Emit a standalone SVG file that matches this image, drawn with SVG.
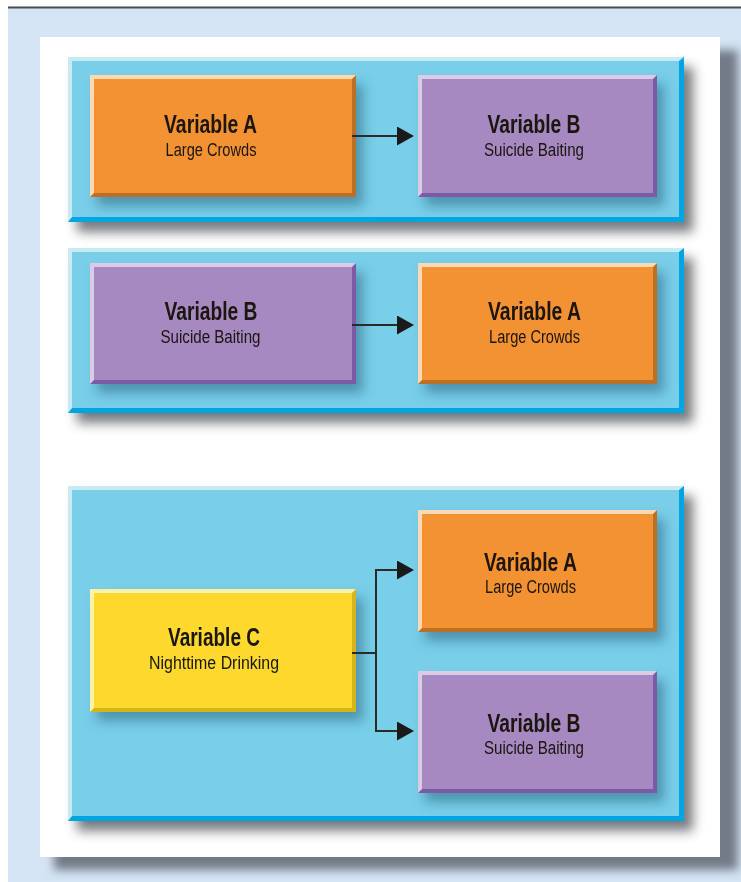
<svg xmlns="http://www.w3.org/2000/svg" width="741" height="882" viewBox="0 0 741 882">
<defs>
<filter id="cardShadow" x="-10%" y="-10%" width="120%" height="120%"><feGaussianBlur stdDeviation="5"/></filter>
<filter id="panelShadow" x="-10%" y="-20%" width="120%" height="150%"><feGaussianBlur stdDeviation="6"/></filter>
<filter id="boxShadow" x="-20%" y="-30%" width="140%" height="160%"><feDropShadow dx="7" dy="9" stdDeviation="6" flood-color="#1d5a76" flood-opacity="0.5"/></filter>
<marker id="arrow" viewBox="0 0 17 19" refX="0" refY="9.5" markerWidth="17" markerHeight="19" markerUnits="userSpaceOnUse" orient="auto"><path d="M0,0 L17,9.5 L0,19 Z" fill="#1a1a1a"/></marker>
</defs>
<style>
.title{font-family:"Liberation Sans",Arial,sans-serif;font-weight:bold;font-size:25px;fill:#1a1410;text-anchor:middle}
.sub{font-family:"Liberation Sans",Arial,sans-serif;font-size:18px;fill:#1a1410;text-anchor:middle}
.plight{fill:#c8eaf3}.pdark{fill:#00a6e1}.pmain{fill:#79cee8}
.olight{fill:#fcd9b4}.odark{fill:#bb6f28}.omain{fill:#f39232}
.ulight{fill:#dccbe6}.udark{fill:#7c5aa6}.umain{fill:#a589c0}
.ylight{fill:#fdf1a6}.ydark{fill:#d6b41e}.ymain{fill:#fdd92f}
.shadow{fill:#4a4f55;opacity:0.75}
.conn{fill:none;stroke:#2a2a2a;stroke-width:2}
</style>
<rect x="0" y="0" width="741" height="882" fill="#ffffff"/>
<rect x="8" y="8" width="733" height="874" fill="#d4e4f4"/>
<line x1="8" y1="7.5" x2="741" y2="7.5" stroke="#4a4a4a" stroke-width="1.8"/>
<rect x="54" y="50" width="684" height="820" fill="#737c86" filter="url(#cardShadow)"/>
<rect x="40" y="37" width="680" height="820" fill="#ffffff"/>

<g id="panel1">
<rect x="77" y="67" width="616" height="165" class="shadow" filter="url(#panelShadow)"/>
<rect x="68" y="57" width="616" height="165" class="plight"/>
<polygon points="684,57 684,222 68,222 72,217 679,217 679,61" class="pdark"/>
<rect x="72" y="61" width="607" height="156" class="pmain"/>
</g>
<g id="panel2">
<rect x="77" y="258" width="616" height="165" class="shadow" filter="url(#panelShadow)"/>
<rect x="68" y="248" width="616" height="165" class="plight"/>
<polygon points="684,248 684,413 68,413 72,408 679,408 679,252" class="pdark"/>
<rect x="72" y="252" width="607" height="156" class="pmain"/>
</g>
<g id="panel3">
<rect x="77" y="496" width="616" height="335" class="shadow" filter="url(#panelShadow)"/>
<rect x="68" y="486" width="616" height="335" class="plight"/>
<polygon points="684,486 684,821 68,821 72,816 679,816 679,490" class="pdark"/>
<rect x="72" y="490" width="607" height="326" class="pmain"/>
</g>

<g id="p1-varA" filter="url(#boxShadow)">
<rect x="90" y="75" width="266" height="122" class="olight"/>
<polygon points="356,75 356,197 90,197 94,193 352,193 352,79" class="odark"/>
<rect x="94" y="79" width="258" height="114" class="omain"/>
<text x="210.5" y="133" class="title" textLength="93" lengthAdjust="spacingAndGlyphs">Variable A</text>
<text x="211" y="156" class="sub" textLength="91" lengthAdjust="spacingAndGlyphs">Large Crowds</text>
</g>
<g id="p1-varB" filter="url(#boxShadow)">
<rect x="418" y="75" width="239" height="122" class="ulight"/>
<polygon points="657,75 657,197 418,197 422,193 653,193 653,79" class="udark"/>
<rect x="422" y="79" width="231" height="114" class="umain"/>
<text x="534" y="133" class="title" textLength="93" lengthAdjust="spacingAndGlyphs">Variable B</text>
<text x="534" y="156" class="sub" textLength="100" lengthAdjust="spacingAndGlyphs">Suicide Baiting</text>
</g>

<g id="p2-varB" filter="url(#boxShadow)">
<rect x="90" y="263" width="266" height="121" class="ulight"/>
<polygon points="356,263 356,384 90,384 94,380 352,380 352,267" class="udark"/>
<rect x="94" y="267" width="258" height="113" class="umain"/>
<text x="211" y="320" class="title" textLength="93" lengthAdjust="spacingAndGlyphs">Variable B</text>
<text x="210.5" y="343" class="sub" textLength="100" lengthAdjust="spacingAndGlyphs">Suicide Baiting</text>
</g>
<g id="p2-varA" filter="url(#boxShadow)">
<rect x="418" y="263" width="239" height="121" class="olight"/>
<polygon points="657,263 657,384 418,384 422,380 653,380 653,267" class="odark"/>
<rect x="422" y="267" width="231" height="113" class="omain"/>
<text x="534.5" y="320" class="title" textLength="93" lengthAdjust="spacingAndGlyphs">Variable A</text>
<text x="534.5" y="343" class="sub" textLength="91" lengthAdjust="spacingAndGlyphs">Large Crowds</text>
</g>

<g id="p3-varC" filter="url(#boxShadow)">
<rect x="90" y="589" width="266" height="123" class="ylight"/>
<polygon points="356,589 356,712 90,712 94,708 352,708 352,593" class="ydark"/>
<rect x="94" y="593" width="258" height="115" class="ymain"/>
<text x="214" y="646" class="title" textLength="92" lengthAdjust="spacingAndGlyphs">Variable C</text>
<text x="214" y="669" class="sub" textLength="130" lengthAdjust="spacingAndGlyphs">Nighttime Drinking</text>
</g>
<g id="p3-varA" filter="url(#boxShadow)">
<rect x="418" y="510" width="239" height="122" class="olight"/>
<polygon points="657,510 657,632 418,632 422,628 653,628 653,514" class="odark"/>
<rect x="422" y="514" width="231" height="114" class="omain"/>
<text x="530.5" y="571" class="title" textLength="93" lengthAdjust="spacingAndGlyphs">Variable A</text>
<text x="530.5" y="593" class="sub" textLength="91" lengthAdjust="spacingAndGlyphs">Large Crowds</text>
</g>
<g id="p3-varB" filter="url(#boxShadow)">
<rect x="418" y="671" width="239" height="122" class="ulight"/>
<polygon points="657,671 657,793 418,793 422,789 653,789 653,675" class="udark"/>
<rect x="422" y="675" width="231" height="114" class="umain"/>
<text x="534" y="732" class="title" textLength="93" lengthAdjust="spacingAndGlyphs">Variable B</text>
<text x="534" y="754" class="sub" textLength="100" lengthAdjust="spacingAndGlyphs">Suicide Baiting</text>
</g>

<g id="connectors">
<path d="M352,136 H397" class="conn" marker-end="url(#arrow)"/>
<path d="M352,325 H397" class="conn" marker-end="url(#arrow)"/>
<path d="M352,653 H376 V570 H397" class="conn" marker-end="url(#arrow)"/>
<path d="M376,653 V731 H397" class="conn" marker-end="url(#arrow)"/>
</g>
</svg>
